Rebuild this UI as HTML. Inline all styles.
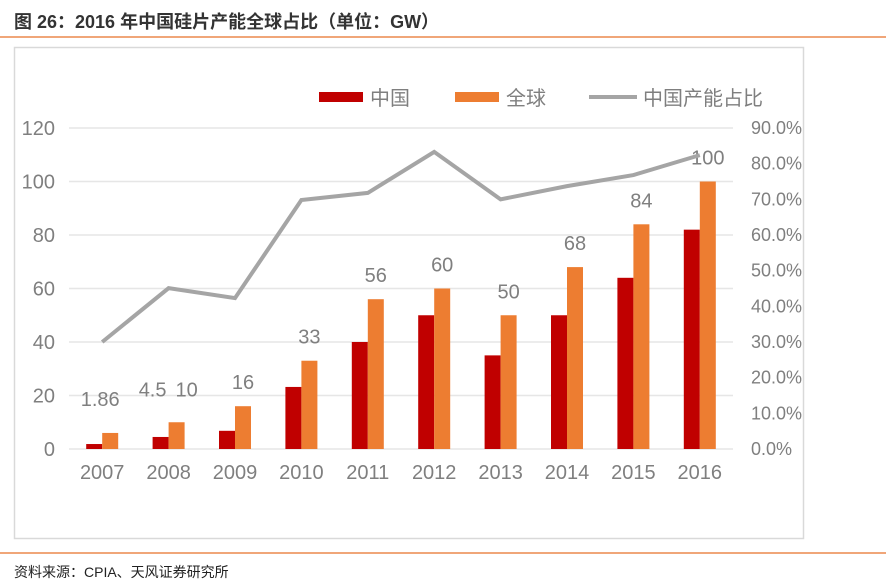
<!DOCTYPE html>
<html><head><meta charset="utf-8">
<style>
body{margin:0;width:886px;height:588px;background:#fff;overflow:hidden;font-family:"Liberation Sans","Noto Sans CJK SC",sans-serif;}
#title{position:absolute;left:14px;top:8px;font-size:18px;font-weight:bold;color:#333;}
.hr{position:absolute;left:0;width:886px;height:2px;background:#f0a679;}
#foot{position:absolute;left:14px;top:562px;font-size:14px;color:#222;}
svg{position:absolute;left:0;top:0;}
</style></head><body>
<div id="title">图 26：2016 年中国硅片产能全球占比（单位：GW）</div>
<div class="hr" style="top:36px"></div>
<div class="hr" style="top:552px"></div>
<div id="foot">资料来源：CPIA、天风证券研究所</div>
<svg id="chart" width="886" height="588"></svg>
<script>
const categories=["2007","2008","2009","2010","2011","2012","2013","2014","2015","2016"];
const chinaValues=[1.86,4.5,6.8,23.2,40,50,35,50,64,82];
const globalValues=[6,10,16,33,56,60,50,68,84,100];
const shareValues=[30,45.1,42.3,69.8,71.8,83.3,70,73.7,76.8,82.4];
const leftTicks=[0,20,40,60,80,100,120];
const rightTicks=[0,10,20,30,40,50,60,70,80,90];
const labelText=["1.86","10","16","33","56","60","50","68","84","100"];
const extraLabelText=["","4.5","","","","","","","",""];

const NS="http://www.w3.org/2000/svg";
const svg=document.getElementById('chart');
const X0=69,X1=733,Y0=449,Y1=128;
const band=(X1-X0)/categories.length;
const xc=i=>X0+band*(i+0.5);
const yL=v=>Y0-(v/120)*(Y0-Y1);
const yR=v=>Y0-(v/90)*(Y0-Y1);
function mk(tag,attrs,txt){const e=document.createElementNS(NS,tag);for(const k in attrs)e.setAttribute(k,attrs[k]);if(txt!==undefined)e.textContent=txt;svg.appendChild(e);return e;}
const frame=mk('rect',{x:14.5,y:47.5,width:789,height:491,fill:'none',stroke:'#d9d9d9','stroke-width':1.5});


leftTicks.forEach(t=>{
  const g=mk('line',{x1:X0,x2:X1,y1:yL(t),y2:yL(t),stroke:'#e6e6e6','stroke-width':1.5});
  
  
  const l=mk('text',{x:55,y:yL(t)+7,'text-anchor':'end','font-size':20,fill:'#7f7f7f'},String(t));
  
  
});
rightTicks.forEach(t=>{
  const l=mk('text',{x:751,y:yR(t)+6,'font-size':18,fill:'#7f7f7f'},t.toFixed(1)+'%');
  
  
});
const bw=16;
categories.forEach((c,i)=>{
  const b1=mk('rect',{x:xc(i)-bw,y:yL(chinaValues[i]),width:bw,height:Y0-yL(chinaValues[i]),fill:'#c00000'});
  
  
  const b2=mk('rect',{x:xc(i),y:yL(globalValues[i]),width:bw,height:Y0-yL(globalValues[i]),fill:'#ed7d31'});
  
  
  const xl=mk('text',{x:xc(i),y:479,'text-anchor':'middle','font-size':20,fill:'#7f7f7f'},c);
  
  
  let lx=xc(i)+bw/2, ly=yL(globalValues[i])-17;
  if(i===0){lx=xc(i)-2;ly=yL(globalValues[i])-27;}
  if(i===1){lx=xc(i)+18;ly=yL(globalValues[i])-26;}
  const dl=mk('text',{x:lx,y:ly,'text-anchor':'middle','font-size':20,fill:'#7f7f7f'},labelText[i]);
  
  
  if(extraLabelText[i]){
    const el=mk('text',{x:xc(i)-16,y:yL(globalValues[i])-26,'text-anchor':'middle','font-size':20,fill:'#7f7f7f'},extraLabelText[i]);
    
    
  }
});
const pts=shareValues.map((v,i)=>xc(i)+','+yR(v)).join(' ');
const line=mk('polyline',{points:pts,fill:'none',stroke:'#a5a5a5','stroke-width':4,'stroke-linejoin':'miter'});


const lg=[['#c00000','中国',319,'rect'],['#ed7d31','全球',455,'rect'],['#a5a5a5','中国产能占比',589,'line']];
lg.forEach(([col,txt,x,kind])=>{
  if(kind==='rect'){const s=mk('rect',{x:x,y:92,width:44,height:10,fill:col});}
  else{const s=mk('line',{x1:x,x2:x+48,y1:97,y2:97,stroke:col,'stroke-width':4});}
  const t=mk('text',{x:x+(kind==='rect'?51:54),y:105,'font-size':20,fill:'#7f7f7f','font-family':'"Liberation Sans","Noto Sans CJK SC",sans-serif'},txt);
  
  
});
</script>
</body></html>
